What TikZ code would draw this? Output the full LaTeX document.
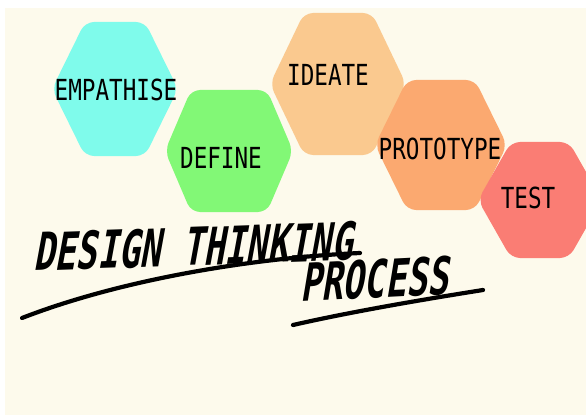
\documentclass[tikz,border=0pt]{standalone}
\usepackage{fontspec}
\newfontfamily\handfont[FakeStretch=0.78]{DejaVu Sans Mono}
\newfontfamily\titlefont[FakeStretch=0.68,FakeSlant=0.22]{DejaVu Sans Mono Bold}
\definecolor{paper}{HTML}{FDFAEC}
\definecolor{empcol}{HTML}{7FFBEB}
\definecolor{defcol}{HTML}{82F876}
\definecolor{idecol}{HTML}{FAC98F}
\definecolor{procol}{HTML}{FBA970}
\definecolor{tescol}{HTML}{FA7D74}
\tikzset{
  lbl/.style={anchor=base,inner sep=0pt,font=\handfont\fontsize{29}{29}\selectfont},
  ttl/.style={anchor=base west,inner sep=0pt,font=\titlefont\fontsize{52}{52}\selectfont},
  pen/.style={line width=4.2pt,line cap=round}
}
\begin{document}
\begin{tikzpicture}[x=1pt,y=-1pt]
\useasboundingbox(0,0)rectangle(586,417);
\clip(0,0)rectangle(586,417);
\fill[white](0,0)rectangle(586,417);
\fill[paper](5,8)rectangle(586,415);
\pgfmathsetmacro{\rc}{9}
% hexagons: name/centre x/centre y/half width/half top/half height/colour/text/text x/text base
\foreach \nm/\hx/\hy/\w/\tp/\h/\col/\lab/\lx/\ly in {
  emp/115/89/63/30/67/empcol/EMPATHISE/116/101,
  def/229/151/64/38/61/defcol/DEFINE/221/168,
  ide/338/84/68/34/71/idecol/IDEATE/328/86,
  pro/441/145/66/34/65/procol/PROTOTYPE/440/160,
  tes/540/200/62/29/58/tescol/TEST/528/208}{
  \fill[\col,rounded corners=\rc](\hx-\w,\hy)--(\hx-\tp,\hy-\h)--(\hx+\tp,\hy-\h)
    --(\hx+\w,\hy)--(\hx+\tp,\hy+\h)--(\hx-\tp,\hy+\h)--cycle;
  \node[lbl](\nm)at(\lx,\ly){\lab};
}
\node[ttl,rotate=2](design)at(33,271){DESIGN THINKING};
\node[ttl,rotate=3](process)at(300,302){PROCESS};
\coordinate(ua)at(22,318);
\coordinate(ub)at(360,253);
\coordinate(uc)at(293,325);
\coordinate(ud)at(483,290);
\draw[pen](ua)..controls(120,280)and(250,258)..(ub);
\draw[pen](uc)..controls(350,312)and(420,300)..(ud);
\end{tikzpicture}
\end{document}
